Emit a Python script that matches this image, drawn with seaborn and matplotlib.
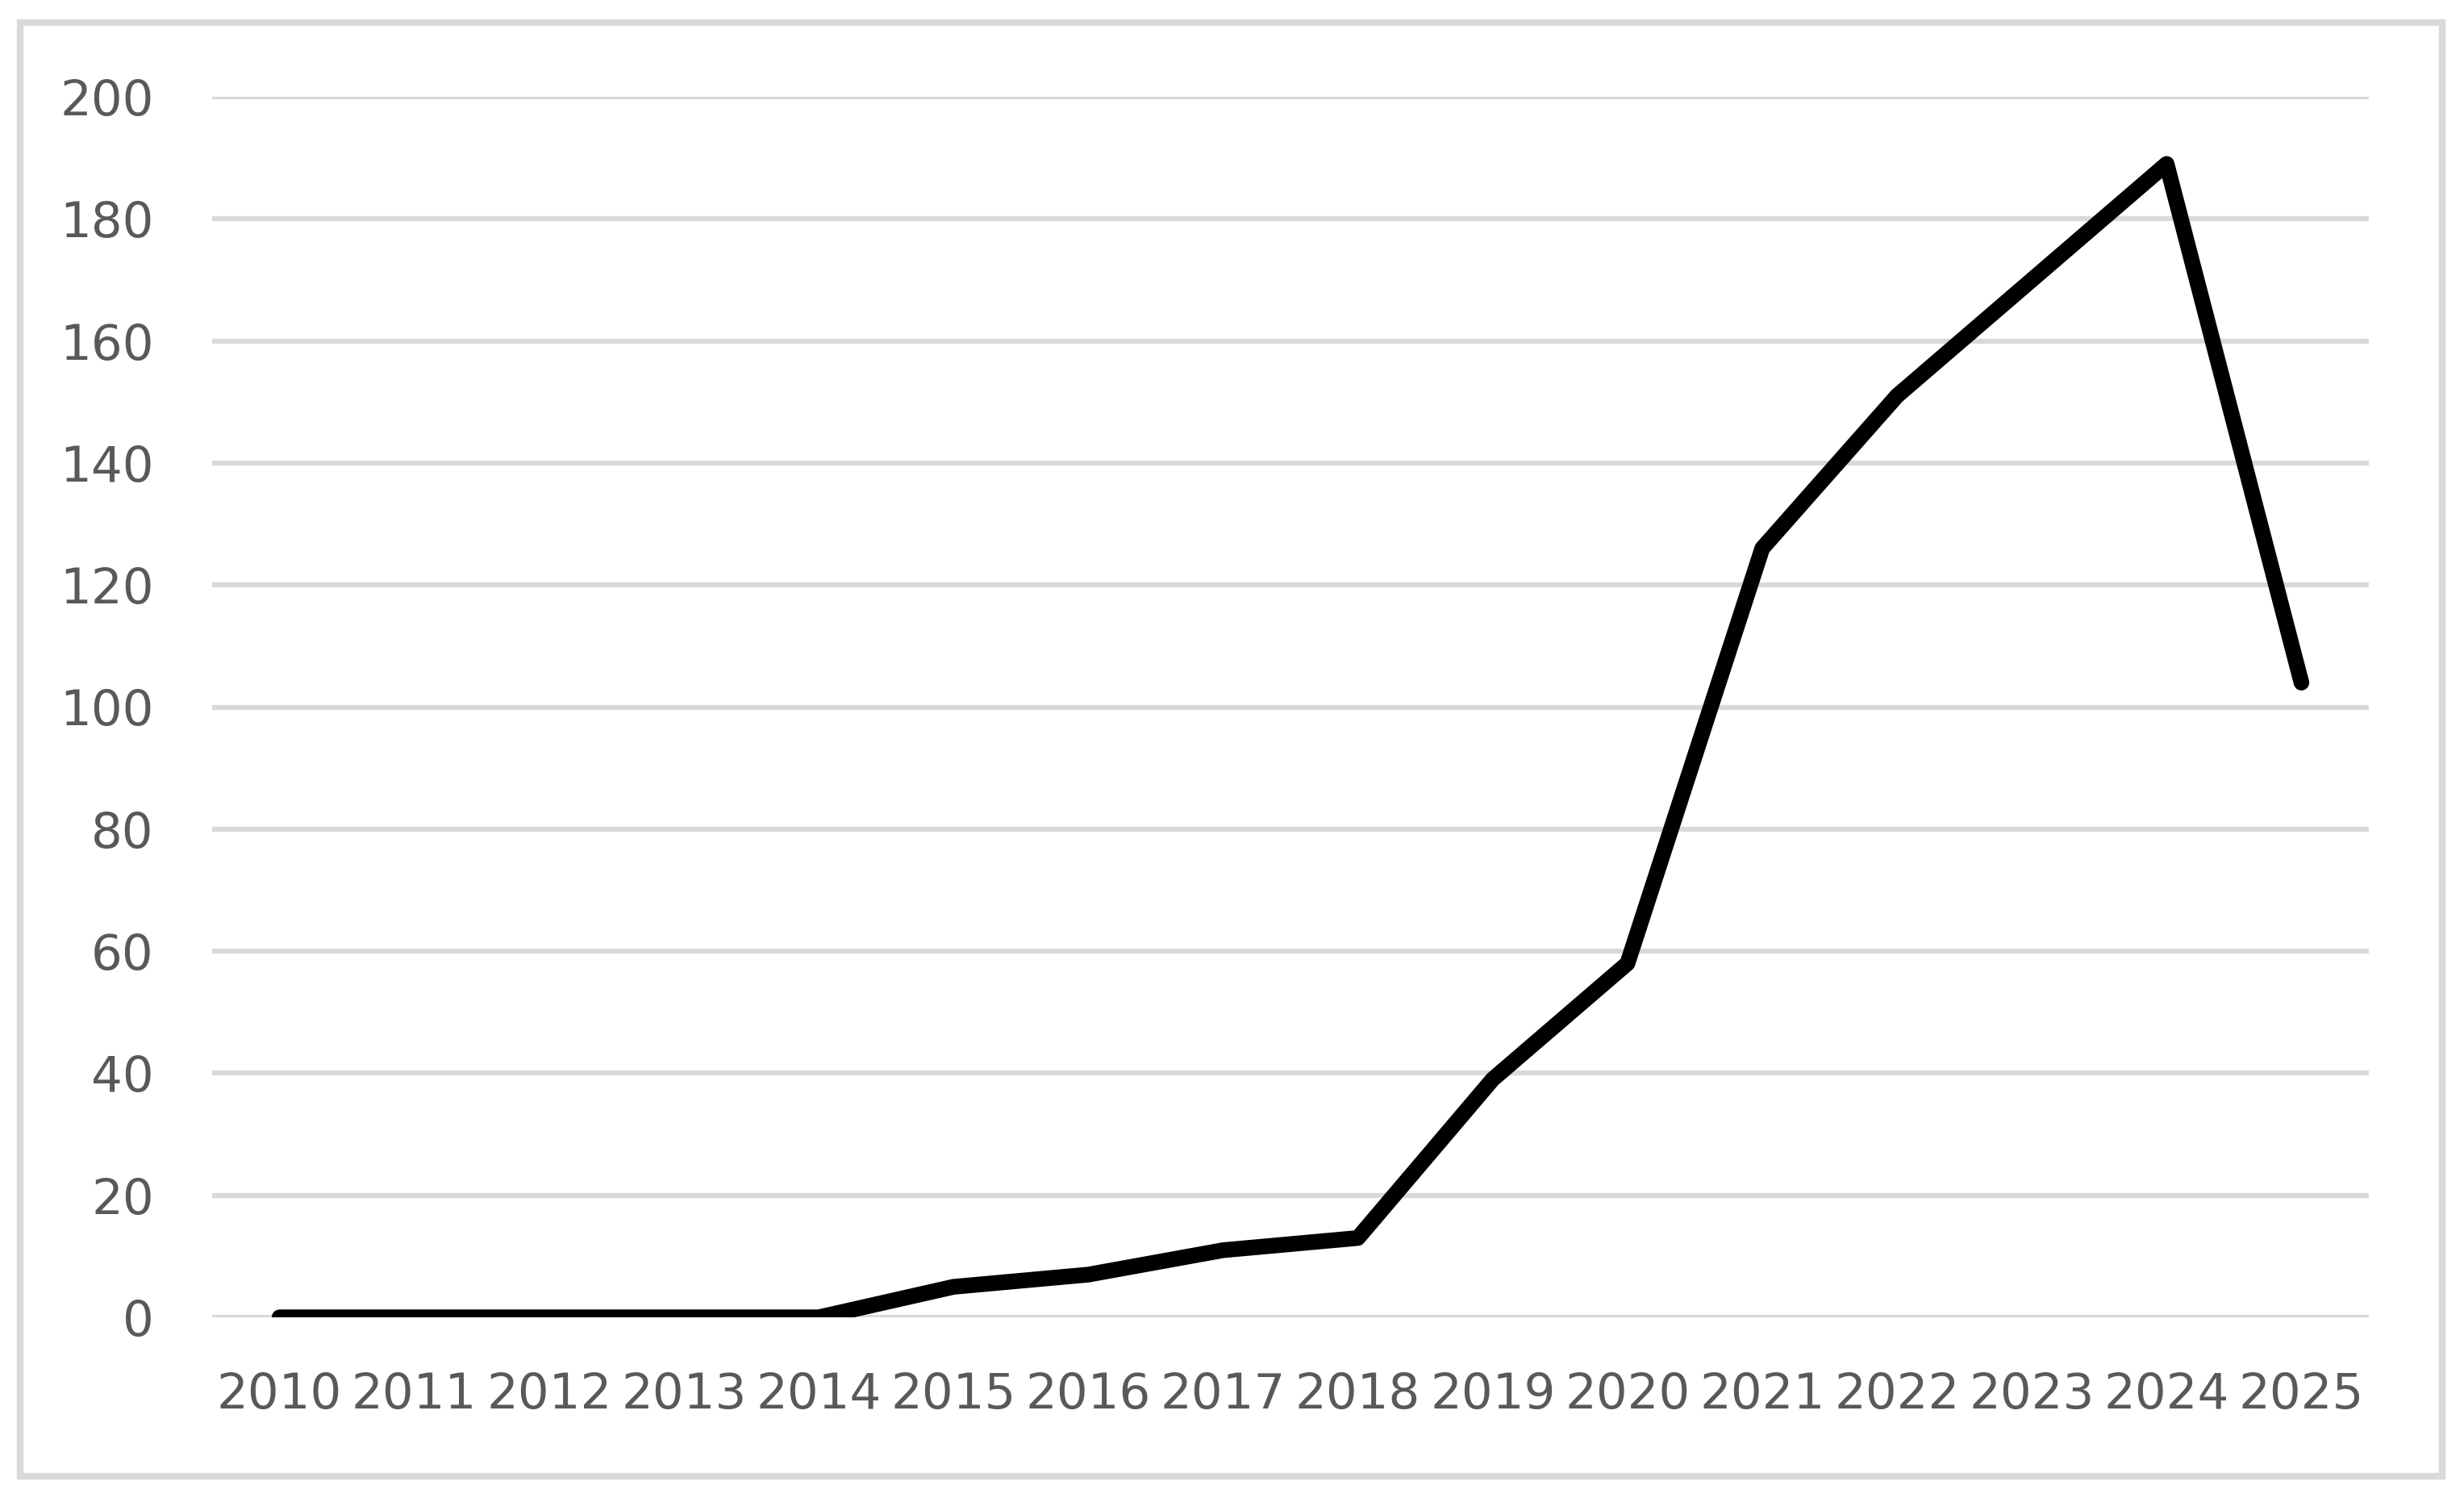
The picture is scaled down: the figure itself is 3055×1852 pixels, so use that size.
import matplotlib
matplotlib.use("Agg")
import matplotlib.pyplot as plt
import seaborn as sns
import pandas as pd
from matplotlib.patches import Rectangle

years = ["2010", "2011", "2012", "2013", "2014", "2015", "2016", "2017",
         "2018", "2019", "2020", "2021", "2022", "2023", "2024", "2025"]
counts = [0, 0, 0, 0, 0, 5, 7, 11, 13, 39, 58, 126, 151, 170, 189, 104]
y_ticks = [0, 20, 40, 60, 80, 100, 120, 140, 160, 180, 200]

sns.set_theme(style="white")
plt.rcParams["font.family"] = ["DejaVu Sans"]

df = pd.DataFrame({"year": years, "count": counts})

fig = plt.figure(figsize=(30.55, 18.52), dpi=100)
ax = fig.add_axes([263 / 3055, 1 - 1633 / 1852, (2937 - 263) / 3055, (1633 - 120) / 1852])

sns.lineplot(data=df, x="year", y="count", ax=ax, color="black", linewidth=14,
             sort=False)
for ln in ax.get_lines():
    ln.set_solid_capstyle("round")
    ln.set_solid_joinstyle("round")

ax.set_xlim(-0.5, len(years) - 0.5)
ax.set_ylim(0, 200)
ax.set_yticks(y_ticks)
ax.set_yticklabels([str(v) for v in y_ticks])
ax.set_xticks(range(len(years)))
ax.set_xticklabels(years)
ax.yaxis.grid(True, color="#d9d9d9", linewidth=4.5)
ax.xaxis.grid(False)
ax.set_axisbelow(True)
for s in ax.spines.values():
    s.set_visible(False)
ax.tick_params(axis="both", length=0, labelsize=44, colors="#595959")
ax.tick_params(axis="x", pad=48)
ax.tick_params(axis="y", pad=52)
ax.set_xlabel("")
ax.set_ylabel("")

# outer chart border
fig.patches.append(Rectangle((25 / 3055, 1 - 1830 / 1852), (3028 - 25) / 3055, (1830 - 28) / 1852,
                             transform=fig.transFigure, fill=False,
                             edgecolor="#d9d9d9", linewidth=6, zorder=0))

fig.savefig("out.png", dpi=100, facecolor="white")
